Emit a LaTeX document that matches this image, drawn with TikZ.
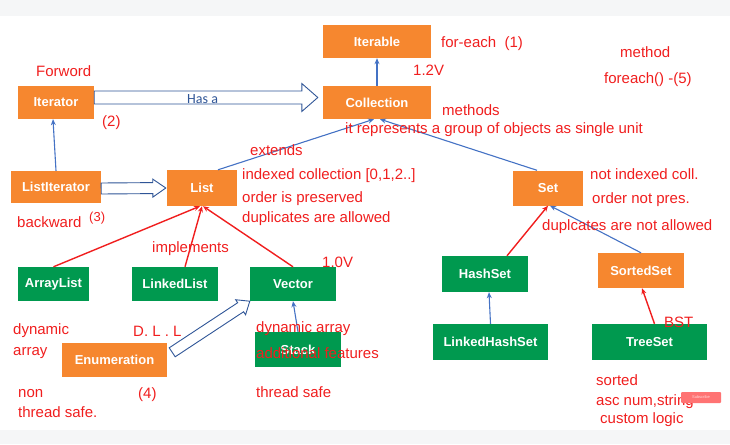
\documentclass[tikz,border=0pt]{standalone}
\usepackage{fontspec}
\setmainfont{Liberation Sans}
\newfontfamily\hasafont{Carlito}
\usepackage{tikz}
\usetikzlibrary{arrows.meta, calc}
\definecolor{boxorange}{HTML}{F6872F}
\definecolor{boxgreen}{HTML}{00994F}
\definecolor{linkblue}{HTML}{4472C4}
\definecolor{hollowblue}{HTML}{2F5597}
\definecolor{notered}{HTML}{F01E1E}
\definecolor{bandgray}{HTML}{F5F6F7}
\newcommand{\notefont}{\fontsize{15}{18}\selectfont}
\newcommand{\boxfont}{\fontsize{13}{15}\selectfont\bfseries}
% hollow block arrow: tail, tip, shaft half width, head half width, head length
\newcommand{\hollowarrow}[5]{%
    \coordinate (ha-base) at ($(#2)!#5!(#1)$);
    \draw[hollow] ($(#1)!#3!90:(#2)$) -- ($(ha-base)!#3!90:(#2)$)
        -- ($(ha-base)!#4!90:(#2)$) -- (#2) -- ($(ha-base)!#4!-90:(#2)$)
        -- ($(ha-base)!#3!-90:(#2)$) -- ($(#1)!#3!-90:(#2)$) -- cycle;
}

\begin{document}
\begin{tikzpicture}[
    x=1pt, y=-1pt,
    obox/.style={fill=boxorange, text=white, font=\boxfont, inner sep=0pt},
    gbox/.style={fill=boxgreen, text=white, font=\boxfont, inner sep=0pt},
    note/.style={anchor=base west, inner sep=0pt, text=notered, font=\notefont},
    inherit/.style={draw=linkblue, line width=1.1pt, -{Stealth[length=6pt, width=5pt]}},
    impl/.style={draw=notered, line width=1.4pt, -{Stealth[length=6pt, width=5pt]}},
    hollow/.style={draw=hollowblue, fill=white, line width=0.9pt, line join=miter}
]
    \useasboundingbox (0,0) rectangle (730,444);
    \fill[bandgray] (0,0) rectangle (730,16);
    \fill[bandgray] (0,430) rectangle (730,444);

    % Orange boxes (interfaces)
    \foreach \name/\x/\y/\w/\h/\txt in {iterable/377/41.5/108/33/Iterable,
        collection/377/102.5/108/33/Collection, iterator/56/102.5/76/33/Iterator,
        listit/56/187/90/32/ListIterator, list/202/188/70/36/List,
        set/548/188/70/35/Set, sortedset/641/270.5/86/35/SortedSet,
        enum/114.5/360/105/34/Enumeration} {
        \node[obox, minimum width=\w pt, minimum height=\h pt] (\name) at (\x,\y) {\txt};
    }

    % Green boxes (classes)
    \foreach \name/\x/\y/\w/\h/\txt in {arraylist/53.5/284/71/34/ArrayList,
        linkedlist/175/284/86/34/LinkedList, vector/293/284/86/34/Vector,
        stack/298/349.5/86/35/Stack, hashset/485/274/86/36/HashSet,
        lhs/490.5/342/115/36/LinkedHashSet, treeset/649.5/342/115/36/TreeSet} {
        \node[gbox, minimum width=\w pt, minimum height=\h pt] (\name) at (\x,\y) {\txt};
    }

    % Extends (blue)
    \draw[inherit] (collection.north) -- (iterable.south);
    \draw[inherit] (listit.north) -- ([xshift=-3pt]iterator.south);
    \draw[inherit] ([xshift=16pt]list.north) -- ([xshift=-3pt]collection.south);
    \draw[inherit] ([xshift=-11pt]set.north) -- ([xshift=3pt]collection.south);
    \draw[inherit] (stack.north) -- (vector.south);
    \draw[inherit] (sortedset.north) -- ([xshift=2pt]set.south);
    \draw[inherit] (lhs.north) -- ([xshift=4pt]hashset.south);

    % Implements (red)
    \draw[impl] (arraylist.north) -- ([xshift=-2pt]list.south);
    \draw[impl] ([xshift=10pt]linkedlist.north) -- (list.south);
    \draw[impl] (vector.north) -- ([xshift=1pt]list.south);
    \draw[impl] ([xshift=22pt]hashset.north) -- (set.south);
    \draw[impl] ([xshift=5pt]treeset.north) -- ([xshift=1pt]sortedset.south);

    % Has-a block arrows
    \coordinate (hasa-from) at ([yshift=5pt]iterator.east);
    \coordinate (hasa-to) at ([xshift=-5pt, yshift=5pt]collection.west);
    \hollowarrow{hasa-from}{hasa-to}{6.5pt}{14pt}{16pt}
    \node[anchor=base west, inner sep=0pt, text=hollowblue, font=\hasafont\fontsize{14}{16}\selectfont]
        (hasa) at (187,103) {Has a};
    \coordinate (li-from) at ([yshift=-1.5pt]listit.east);
    \coordinate (li-to) at ([xshift=-1pt]list.west);
    \hollowarrow{li-from}{li-to}{5.5pt}{9pt}{13pt}
    \coordinate (en-from) at ([xshift=5pt, yshift=-9.5pt]enum.north east);
    \coordinate (en-to) at (vector.south west);
    \hollowarrow{en-from}{en-to}{5.4pt}{9pt}{11pt}

    % Notes
    \node[note] (forword) at (36,77) {Forword};
    \node[note] (n2) at (102,126) {(2)};
    \node[note] (foreach1) at (441,48) {for-each\ \ (1)};
    \node[note] (v12) at (413,75) {1.2V};
    \node[note] (method) at (620,57) {method};
    \node[note] (foreach5) at (604,83) {foreach() -(5)};
    \node[note] (methods) at (442,115) {methods};
    \node[note] (group) at (345,133) {it represents a group of objects as single unit};
    \node[note] (extends) at (250,155) {extends};
    \node[note] (idx) at (242,179) {indexed collection [0,1,2..]};
    \node[note] (order) at (242,202) {order is preserved};
    \node[note] (dup) at (242,222) {duplicates are allowed};
    \node[note] (backward) at (17,227) {backward};
    \node[note, font=\fontsize{13}{15}\selectfont] (n3) at (89,221) {(3)};
    \node[note] (implements) at (152,252) {implements};
    \node[note] (v10) at (322,267) {1.0V};
    \node[note] (notidx) at (590,179) {not indexed coll.};
    \node[note] (notorder) at (592,203) {order not pres.};
    \node[note] (notdup) at (542,230) {duplcates are not allowed};
    \node[note] (dyn) at (13,334) {dynamic};
    \node[note] (arr) at (13,355) {array};
    \node[note] (dll) at (133,336) {D. L . L};
    \node[note] (dynarr) at (256,332) {dynamic array};
    \node[note] (addf) at (256,358) {additional features};
    \node[note] (non) at (18,397) {non};
    \node[note] (nts) at (18,417) {thread safe.};
    \node[note] (n4) at (138,398) {(4)};
    \node[note] (ts) at (256,397) {thread safe};
    \node[note] (bst) at (664,327) {BST};
    \node[note] (sorted) at (596,385) {sorted};
    \node[note] (asc) at (596,405) {asc num,string};
    \node[note] (custom) at (600,423) {custom logic};

    % Subscribe badge
    \node[fill=red!55!white, rounded corners=1pt, minimum width=40pt, minimum height=11pt,
        inner sep=0pt, text=white!85!red, font=\fontsize{4}{5}\selectfont] (sub) at (701,397.5) {Subscribe};
\end{tikzpicture}
\end{document}
